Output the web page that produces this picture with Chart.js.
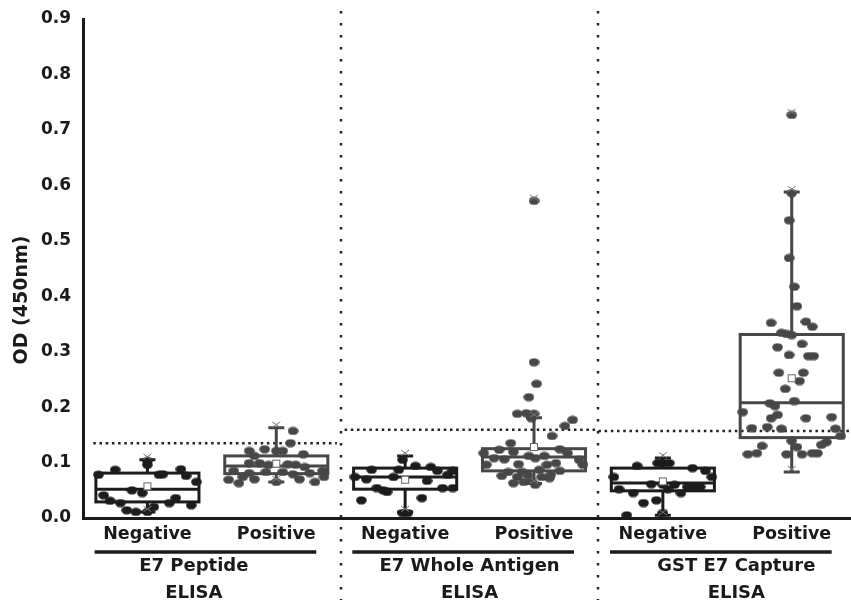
<!DOCTYPE html>
<html>
<head>
<meta charset="utf-8">
<script src="https://cdn.jsdelivr.net/npm/chart.js@4.4.1/dist/chart.umd.min.js"></script>
<style>
  body { margin: 0; background: #fff; }
  canvas { display: block; }
</style>
</head>
<body>
<canvas id="myChart" width="851" height="600"></canvas>
<script>
// categories, left to right
let categories = ['Negative', 'Positive', 'Negative', 'Positive', 'Negative', 'Positive'];
let groups = ['E7 Peptide', 'E7 Whole Antigen', 'GST E7 Capture'];
let yTicks = [0, 0.1, 0.2, 0.3, 0.4, 0.5, 0.6, 0.7, 0.8, 0.9];

// box statistics, one value per category
let whiskerLow  = [0.011, 0.065, 0.011, 0.062, 0.005, 0.083];
let q1          = [0.029, 0.080, 0.052, 0.085, 0.049, 0.145];
let median      = [0.052, 0.094, 0.074, 0.110, 0.063, 0.208];
let q3          = [0.081, 0.112, 0.090, 0.125, 0.090, 0.331];
let whiskerHigh = [0.105, 0.163, 0.112, 0.181, 0.108, 0.588];
let mean        = [0.057, 0.098, 0.069, 0.128, 0.066, 0.252];
let outliers    = [[], [], [], [0.572], [], [0.727]];

// cut-off OD per assay
let cutoff = [0.135, 0.159, 0.157];

// individual samples: [jitter from category centre, OD]
let neg1 = [[-0.38,0.078],[-0.25,0.087],[0,0.096],[0,0.103],[0.09,0.078],[0.12,0.079],[0.26,0.088],[0.30,0.076],[0.38,0.065],
  [-0.12,0.050],[-0.04,0.045],[-0.34,0.041],[-0.29,0.031],[-0.21,0.027],[-0.16,0.014],[-0.09,0.011],[0,0.011],[0.05,0.020],
  [0.17,0.027],[0.22,0.036],[0.34,0.023]];
let pos1 = [[0.13,0.157],[0.11,0.135],[-0.21,0.121],[-0.09,0.124],[0,0.121],[0.05,0.121],[0.21,0.115],[-0.17,0.112],
  [-0.21,0.099],[-0.13,0.099],[-0.06,0.096],[0.09,0.097],[0.15,0.096],[0.22,0.092],[-0.33,0.085],[-0.21,0.081],[-0.08,0.083],
  [0.05,0.083],[0.13,0.079],[0.26,0.081],[0.36,0.085],[-0.37,0.069],[-0.29,0.063],[-0.17,0.070],[0,0.065],[0.18,0.070],
  [0.30,0.065],[-0.26,0.074],[0.37,0.074]];
let neg2 = [[-0.02,0.105],[-0.26,0.087],[-0.05,0.087],[0.08,0.094],[0.20,0.092],[0.25,0.085],[0.37,0.085],[-0.39,0.074],
  [-0.30,0.070],[-0.09,0.074],[0.17,0.067],[0.33,0.078],[-0.22,0.054],[-0.17,0.050],[-0.14,0.047],[0.29,0.054],[0.37,0.054],
  [-0.34,0.032],[0.13,0.036],[-0.02,0.009],[0.02,0.009]];
let pos2 = [[0,0.572],[0,0.281],[0.02,0.242],[-0.04,0.218],[-0.13,0.188],[-0.06,0.189],[0,0.188],[-0.02,0.180],[0.30,0.177],
  [0.24,0.166],[0.14,0.148],[-0.18,0.135],[-0.27,0.123],[-0.16,0.119],[0.20,0.124],[-0.39,0.117],[0.26,0.117],[-0.31,0.108],
  [-0.04,0.112],[0.08,0.112],[-0.23,0.106],[0.01,0.108],[0.35,0.105],[-0.37,0.096],[-0.12,0.097],[0.10,0.096],[0.17,0.099],
  [0.38,0.096],[-0.20,0.083],[-0.09,0.083],[0.04,0.087],[0.20,0.085],[-0.25,0.076],[-0.13,0.074],[-0.05,0.078],[0.06,0.074],
  [0.13,0.078],[-0.08,0.065],[-0.02,0.067],[0.12,0.072],[-0.16,0.063],[0.01,0.060]];
let neg3 = [[-0.04,0.099],[0,0.099],[0.05,0.099],[-0.20,0.094],[0.23,0.090],[0.33,0.085],[-0.38,0.074],[0.38,0.074],
  [-0.09,0.061],[0,0.060],[0.09,0.060],[0.19,0.056],[0.25,0.056],[0.29,0.056],[-0.34,0.052],[0.04,0.052],[-0.23,0.045],
  [0.14,0.045],[-0.05,0.032],[-0.15,0.027],[-0.28,0.005],[0,0.009]];
let pos3 = [[0,0.727],[0,0.586],[-0.02,0.537],[-0.02,0.469],[0.02,0.417],[0.04,0.382],[-0.16,0.352],[0.11,0.354],[0.16,0.345],
  [-0.08,0.334],[-0.04,0.332],[0,0.330],[-0.11,0.308],[0.08,0.314],[-0.02,0.294],[0.13,0.292],[0.17,0.292],[-0.10,0.262],
  [0.09,0.262],[0.06,0.247],[-0.05,0.233],[-0.17,0.207],[-0.13,0.202],[0.02,0.211],[-0.38,0.191],[-0.11,0.186],[-0.16,0.180],
  [0.11,0.180],[0.31,0.182],[-0.31,0.162],[-0.19,0.164],[-0.08,0.161],[0.34,0.161],[0.38,0.148],[0.27,0.137],[0.23,0.132],
  [0,0.139],[-0.23,0.130],[0.04,0.128],[-0.34,0.115],[-0.27,0.117],[-0.04,0.115],[0.08,0.115],[0.16,0.117],[0.20,0.117]];
let samples = [neg1, pos1, neg2, pos2, neg3, pos3];

const FONT = '"DejaVu Sans", "Liberation Sans", sans-serif';
const negColor = '#1c1c1c';
const posColor = '#474747';
const boxHalf = 0.40;

function dot(color) {
    let c = document.createElement('canvas');
    c.width = 11;
    c.height = 9;
    let g = c.getContext('2d');
    g.fillStyle = color;
    g.beginPath();
    g.ellipse(5.5, 4.5, 5.3, 4.1, 0, 0, Math.PI * 2);
    g.fill();
    return c;
}
let negDot = dot(negColor);
let posDot = dot(posColor);

function colorOf(i) {
    return i % 2 === 0 ? negColor : posColor;
}

function xMark(ctx, px, py, s) {
    ctx.save();
    ctx.lineWidth = 1;
    ctx.strokeStyle = '#777';
    ctx.beginPath();
    ctx.moveTo(px - s, py - s * 0.7);
    ctx.lineTo(px + s, py + s * 0.7);
    ctx.moveTo(px + s, py - s * 0.7);
    ctx.lineTo(px - s, py + s * 0.7);
    ctx.stroke();
    ctx.restore();
}

const boxPlugin = {
    id: 'boxes',
    beforeDatasetsDraw(chart) {
        let ctx = chart.ctx;
        let x = chart.scales.x, y = chart.scales.y;
        ctx.save();

        // dotted separators between assays
        ctx.strokeStyle = '#222';
        ctx.lineWidth = 2.5;
        ctx.setLineDash([2.5, 9.5]);
        [2.5, 4.5].forEach(v => {
            let px = Math.round(x.getPixelForValue(v));
            ctx.beginPath();
            ctx.moveTo(px, 11);
            ctx.lineTo(px, chart.height);
            ctx.stroke();
        });

        // dotted cut-off lines
        ctx.lineWidth = 2.5;
        ctx.setLineDash([2.5, 3.7]);
        let spans = [[0.58, 2.47], [2.53, 4.5], [4.5, 6.46]];
        cutoff.forEach((c, g) => {
            let py = y.getPixelForValue(c);
            ctx.beginPath();
            ctx.moveTo(x.getPixelForValue(spans[g][0]), py);
            ctx.lineTo(x.getPixelForValue(spans[g][1]), py);
            ctx.stroke();
        });
        ctx.setLineDash([]);

        // boxes and whiskers
        categories.forEach((c, i) => {
            let cx = x.getPixelForValue(i + 1);
            let left = x.getPixelForValue(i + 1 - boxHalf);
            let right = x.getPixelForValue(i + 1 + boxHalf);
            let yq1 = y.getPixelForValue(q1[i]);
            let yq3 = y.getPixelForValue(q3[i]);
            let ymed = y.getPixelForValue(median[i]);
            let ylo = y.getPixelForValue(whiskerLow[i]);
            let yhi = y.getPixelForValue(whiskerHigh[i]);
            ctx.strokeStyle = colorOf(i);
            ctx.lineWidth = 3;
            ctx.strokeRect(left, yq3, right - left, yq1 - yq3);
            ctx.beginPath();
            ctx.moveTo(left, ymed);
            ctx.lineTo(right, ymed);
            ctx.moveTo(cx, yq3);
            ctx.lineTo(cx, yhi);
            ctx.moveTo(cx, yq1);
            ctx.lineTo(cx, ylo);
            ctx.moveTo(cx - 8, yhi);
            ctx.lineTo(cx + 8, yhi);
            ctx.moveTo(cx - 8, ylo);
            ctx.lineTo(cx + 8, ylo);
            ctx.stroke();
        });
        ctx.restore();
    },
    afterDatasetsDraw(chart) {
        let ctx = chart.ctx;
        let x = chart.scales.x, y = chart.scales.y;
        ctx.save();
        categories.forEach((c, i) => {
            let cx = x.getPixelForValue(i + 1);
            // mean marker
            let ym = y.getPixelForValue(mean[i]);
            ctx.fillStyle = '#fff';
            ctx.strokeStyle = '#666';
            ctx.lineWidth = 1;
            ctx.fillRect(cx - 3.5, ym - 3.5, 7, 7);
            ctx.strokeRect(cx - 3.5, ym - 3.5, 7, 7);
            // 1% / 99% crosses at whisker ends
            xMark(ctx, cx, y.getPixelForValue(whiskerHigh[i]) - 3, 4);
            xMark(ctx, cx, y.getPixelForValue(whiskerLow[i]) - 3, 4);
            outliers[i].forEach(v => xMark(ctx, cx, y.getPixelForValue(v) - 3, 4));
        });
        ctx.restore();
    },
    afterDraw(chart) {
        let ctx = chart.ctx;
        let x = chart.scales.x;
        ctx.save();
        ctx.fillStyle = '#1a1a1a';
        ctx.strokeStyle = '#1a1a1a';
        ctx.textAlign = 'center';
        ctx.textBaseline = 'middle';
        let shift = [-0.09, 0.05, 0.12];
        groups.forEach((name, g) => {
            let lo = 2 * g + 1, hi = 2 * g + 2;
            let x0 = x.getPixelForValue(lo - 0.41);
            let x1 = x.getPixelForValue(hi + 0.31);
            ctx.lineWidth = 3.5;
            ctx.beginPath();
            ctx.moveTo(x0, 552);
            ctx.lineTo(x1, 552);
            ctx.stroke();
            let cx = x.getPixelForValue((lo + hi) / 2 - 0.05 + shift[g]);
            ctx.font = 'bold 18px ' + FONT;
            ctx.fillText(name, cx, 566);
            ctx.fillText('ELISA', cx, 593);
        });
        // y axis title
        ctx.translate(22, 300);
        ctx.rotate(-Math.PI / 2);
        ctx.font = 'bold 19px ' + FONT;
        ctx.fillText('OD (450nm)', 0, 0);
        ctx.restore();
    }
};

let datasets = samples.map((pts, i) => ({
    label: categories[i],
    data: pts.map(p => ({ x: i + 1 + p[0], y: p[1] })),
    pointStyle: i % 2 === 0 ? negDot : posDot,
    pointRadius: 5,
    backgroundColor: colorOf(i),
    borderColor: colorOf(i)
}));

let ctx = document.getElementById('myChart').getContext('2d');
let myChart = new Chart(ctx, {
    type: 'scatter',
    data: { datasets: datasets },
    options: {
        responsive: false,
        animation: false,
        layout: { autoPadding: false, padding: { left: 0, right: 0, top: 19, bottom: 52 } },
        plugins: {
            legend: { display: false },
            tooltip: { enabled: false }
        },
        scales: {
            x: {
                type: 'linear',
                min: 0.5,
                max: 6.46,
                grid: { display: false },
                border: { display: true, color: '#1a1a1a', width: 3 },
                afterBuildTicks: scale => {
                    scale.ticks = categories.map((c, i) => ({ value: i + 1 }));
                },
                afterFit: scale => {
                    scale.height = 30;
                    scale.paddingLeft = 0;
                    scale.paddingRight = 0;
                },
                ticks: {
                    autoSkip: false,
                    maxRotation: 0,
                    padding: -2,
                    color: '#1a1a1a',
                    font: { family: FONT, size: 17.5, weight: 'bold' },
                    callback: value => categories[Math.round(value) - 1]
                }
            },
            y: {
                min: 0,
                max: 0.9,
                grid: { display: false },
                border: { display: true, color: '#1a1a1a', width: 3 },
                afterBuildTicks: scale => {
                    scale.ticks = yTicks.map(v => ({ value: v }));
                },
                afterFit: scale => { scale.width = 83; },
                ticks: {
                    padding: 4,
                    color: '#1a1a1a',
                    font: { family: FONT, size: 17, weight: 'bold' },
                    callback: value => value.toFixed(1)
                }
            }
        }
    },
    plugins: [boxPlugin]
});
</script>
</body>
</html>
